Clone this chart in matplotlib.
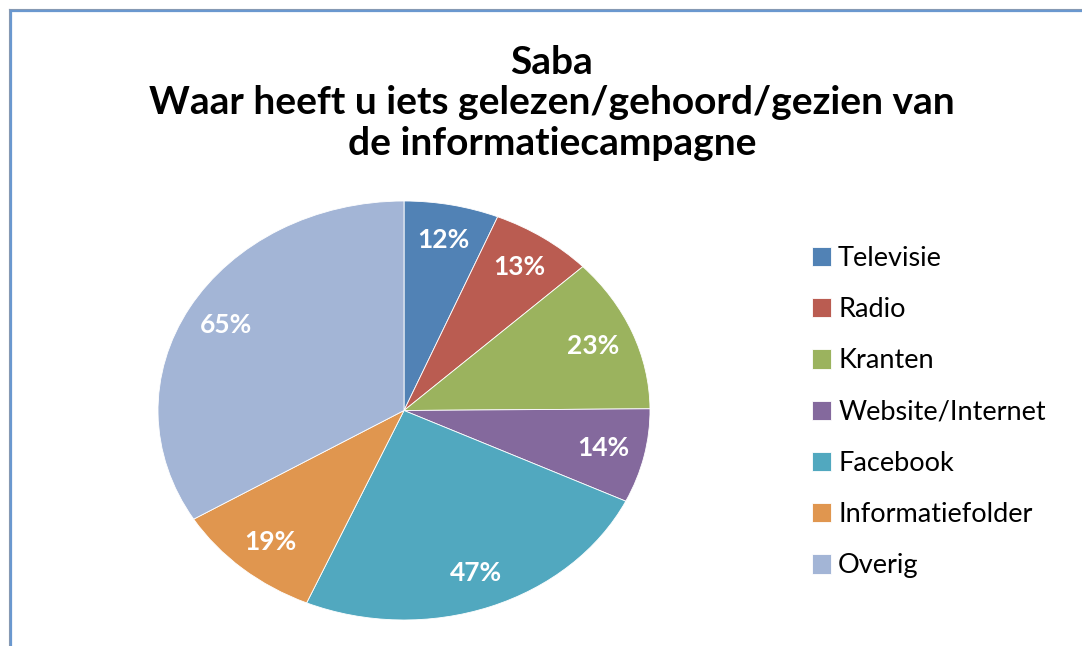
import matplotlib

matplotlib.use("Agg")
import matplotlib.pyplot as plt
import numpy as np
from matplotlib.lines import Line2D

plt.rcParams["font.family"] = ["Lato", "DejaVu Sans"]

# --- data ---------------------------------------------------------------
TITLE = "Saba\nWaar heeft u iets gelezen/gehoord/gezien van\nde informatiecampagne"
categories = ["Televisie", "Radio", "Kranten", "Website/Internet",
              "Facebook", "Informatiefolder", "Overig"]
values = [12, 13, 23, 14, 47, 19, 65]
colors = ["#5182B5", "#BA5C51", "#9BB35E", "#84699D",
          "#51A8BF", "#E0964F", "#A3B5D6"]

W, H = 1082, 646
fig = plt.figure(figsize=(W / 100, H / 100), dpi=100)


def px_box(x0, y0, x1, y1):
    """pixel box (top-left origin) -> figure fraction rect"""
    return [x0 / W, 1 - y1 / H, (x1 - x0) / W, (y1 - y0) / H]


# pie is drawn stretched into an ellipse, like the Excel original
ax = fig.add_axes(px_box(158, 201, 650, 620))
wedges, _ = ax.pie(values, colors=colors, startangle=90, counterclock=False,
                   wedgeprops=dict(edgecolor="white", linewidth=0.6))
ax.set_aspect("auto")
ax.set_xlim(-1, 1)
ax.set_ylim(-1, 1)

for w, v in zip(wedges, values):
    mid = np.deg2rad((w.theta1 + w.theta2) / 2)
    r = 0.83
    ax.text(r * np.cos(mid), r * np.sin(mid), f"{v}%", ha="center",
            va="center", color="white", fontsize=19, fontweight="bold")

fig.text(0.51, 1 - 103 / H, TITLE, ha="center", va="center",
         fontsize=28, fontweight="bold", linespacing=1.18, color="black")

fig.legend(wedges, categories, loc="upper left",
           bbox_to_anchor=(801 / W, 1 - 235 / H), frameon=False,
           fontsize=19.5, handlelength=0.72, handleheight=0.72,
           handletextpad=0.25, labelspacing=0.97, borderaxespad=0)

# chart frame (only left and top edges are visible in the crop)
fig.add_artist(Line2D([9 / W, 9 / W], [0, 1 - 9 / H], color="#8A9AB0",
                      linewidth=0.8, transform=fig.transFigure))
fig.add_artist(Line2D([9 / W, 1], [1 - 9 / H, 1 - 9 / H], color="#8A9AB0",
                      linewidth=0.8, transform=fig.transFigure))
fig.add_artist(Line2D([10.5 / W, 10.5 / W], [0, 1 - 10.5 / H], color="#6A98CF",
                      linewidth=1.6, transform=fig.transFigure))
fig.add_artist(Line2D([10.5 / W, 1], [1 - 10.5 / H, 1 - 10.5 / H],
                      color="#6A98CF", linewidth=1.6,
                      transform=fig.transFigure))

fig.savefig("out.png", dpi=100)
